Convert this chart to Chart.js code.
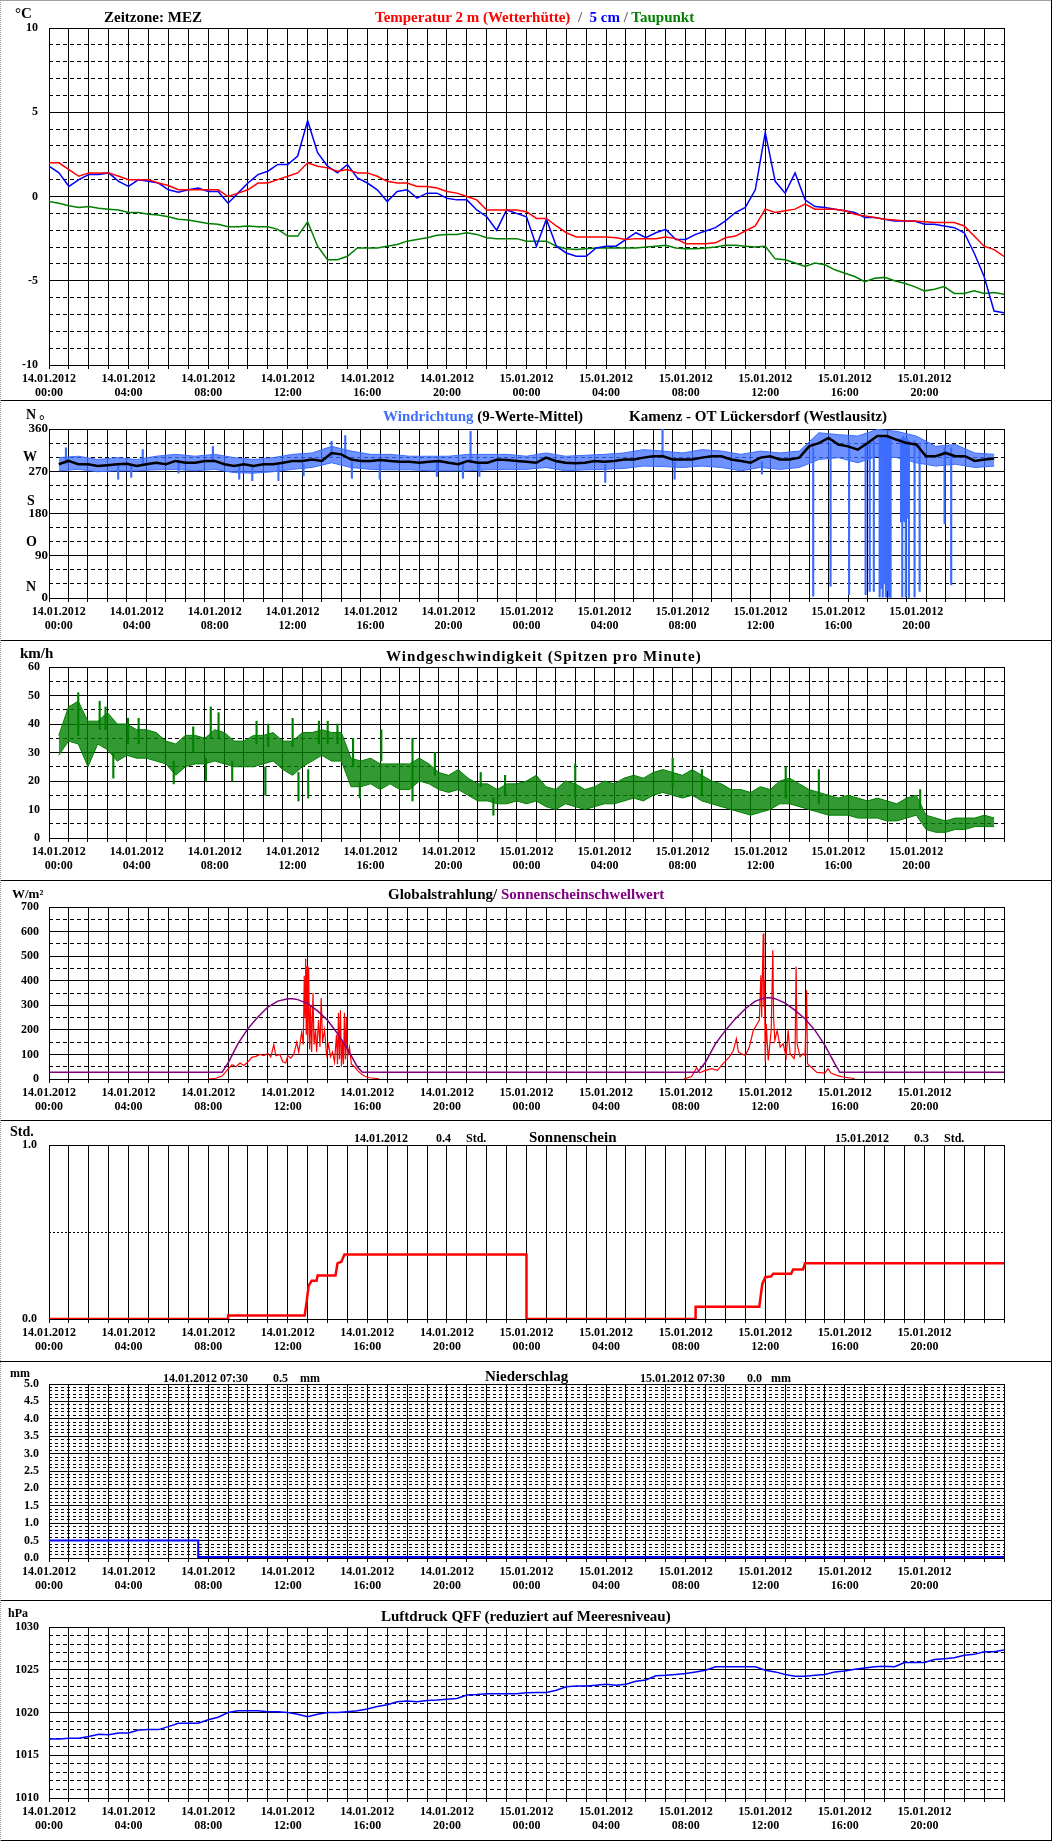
<!DOCTYPE html>
<html>
<head>
<meta charset="utf-8">
<script src="https://cdn.jsdelivr.net/npm/chart.js@4/dist/chart.umd.min.js"></script>
<style>
  html, body { margin: 0; padding: 0; background: #fff; }
  body { width: 1052px; height: 1841px; position: relative; overflow: hidden; }
  .panel { position: absolute; left: 0; width: 1052px; }
  .panel canvas { display: block; }
  .txt { position: absolute; white-space: pre; line-height: 1; font-family: 'Liberation Serif', 'Times New Roman', serif; font-weight: bold; color: #000; }
  .hline { position: absolute; left: 0; width: 1052px; height: 1px; background: #000; }
</style>
</head>
<body>
<div class="panel" style="top:0;height:400px"><canvas id="cTemp" width="1052" height="400"></canvas></div>
<div class="panel" style="top:400px;height:240px"><canvas id="cDir" width="1052" height="240"></canvas></div>
<div class="panel" style="top:640px;height:240px"><canvas id="cSpeed" width="1052" height="240"></canvas></div>
<div class="panel" style="top:880px;height:240px"><canvas id="cRad" width="1052" height="240"></canvas></div>
<div class="panel" style="top:1120px;height:241px"><canvas id="cSun" width="1052" height="241"></canvas></div>
<div class="panel" style="top:1361px;height:239px"><canvas id="cRain" width="1052" height="239"></canvas></div>
<div class="panel" style="top:1600px;height:240px"><canvas id="cPress" width="1052" height="240"></canvas></div>

<script>
// ---- data (hours since 14.01.2012 00:00) ----
const tickDates = ['14.01.2012', '15.01.2012'];

// temperatures, every 30 min
const temp2m = [2.0,2.0,1.6,1.2,1.4,1.4,1.4,1.2,1.0,1.0,1.0,0.8,0.65,0.4,0.4,0.4,0.4,0.4,0.0,0.2,0.4,0.8,0.8,1.0,
  1.2,1.4,2.0,1.8,1.7,1.5,1.6,1.4,1.4,1.2,0.9,0.8,0.8,0.6,0.6,0.5,0.3,0.2,0.0,-0.2,-0.8,-0.8,-0.8,-0.8,
  -0.9,-1.3,-1.3,-1.75,-2.15,-2.4,-2.4,-2.4,-2.4,-2.45,-2.55,-2.5,-2.5,-2.5,-2.4,-2.5,-2.8,-2.8,-2.8,-2.75,-2.45,-2.35,-2.05,-1.75,
  -0.75,-0.95,-0.85,-0.75,-0.45,-0.75,-0.75,-0.75,-0.85,-1.05,-1.15,-1.25,-1.35,-1.4,-1.45,-1.45,-1.5,-1.55,-1.55,-1.55,-1.75,-2.35,-2.95,-3.15,-3.55];
const temp5cm = [1.8,1.4,0.6,1.0,1.3,1.3,1.4,0.9,0.6,1.0,0.9,0.8,0.4,0.25,0.4,0.5,0.3,0.3,-0.4,0.2,0.8,1.3,1.5,1.9,
  1.9,2.4,4.5,2.6,1.8,1.4,1.9,1.1,0.8,0.4,-0.3,0.3,0.4,-0.1,0.2,0.2,-0.1,-0.2,-0.2,-0.8,-1.2,-2.0,-0.8,-1.0,
  -1.2,-2.95,-1.35,-2.95,-3.35,-3.55,-3.55,-3.05,-2.95,-2.95,-2.55,-2.15,-2.45,-2.15,-1.95,-2.55,-2.55,-2.25,-2.05,-1.85,-1.45,-0.95,-0.65,0.4,
  3.8,0.9,0.2,1.4,-0.2,-0.6,-0.65,-0.75,-0.85,-0.95,-1.25,-1.25,-1.35,-1.45,-1.45,-1.45,-1.65,-1.65,-1.75,-1.85,-2.15,-3.35,-4.75,-6.8,-6.9];
const dewPoint = [-0.3,-0.4,-0.55,-0.65,-0.6,-0.7,-0.75,-0.8,-0.95,-0.95,-1.05,-1.1,-1.2,-1.35,-1.4,-1.5,-1.6,-1.65,-1.8,-1.8,-1.75,-1.8,-1.8,-1.95,
  -2.35,-2.35,-1.5,-2.95,-3.75,-3.75,-3.55,-3.05,-3.05,-3.05,-2.95,-2.85,-2.65,-2.55,-2.45,-2.3,-2.25,-2.25,-2.15,-2.25,-2.45,-2.5,-2.5,-2.5,
  -2.65,-2.65,-2.65,-2.95,-3.1,-3.15,-3.1,-3.05,-3.05,-3.05,-3.05,-3.05,-3.0,-2.95,-2.9,-3.05,-3.1,-3.1,-3.05,-3.0,-2.9,-2.9,-2.95,-3.0,
  -2.95,-3.7,-3.75,-3.95,-4.15,-3.95,-4.05,-4.35,-4.55,-4.75,-5.05,-4.85,-4.8,-5.0,-5.15,-5.35,-5.6,-5.5,-5.35,-5.75,-5.75,-5.6,-5.75,-5.7,-5.8];

// wind direction: 9-value mean every 30 min, raw spread hourly, single spikes
const dirMean = [285,292,285,285,281,283,285,286,281,285,288,285,292,288,288,292,292,285,281,285,281,285,285,288,
  292,292,295,292,309,306,295,292,292,294,292,290,290,288,290,292,288,285,292,288,288,295,294,292,
  290,288,299,292,288,287,288,292,290,292,295,295,299,302,302,295,295,295,299,302,302,295,292,288,
  299,302,295,295,299,323,330,341,327,323,316,330,345,345,337,330,327,302,302,309,302,302,292,295,297];
const dirHi = [299,302,295,299,295,302,306,302,306,299,295,299,306,309,323,313,306,306,302,302,302,306,306,306,
  302,309,302,304,306,309,316,313,309,316,313,306,313,309,313,352,348,345,359,355,345,323,327,309,306];
const dirLo = [271,274,269,271,271,273,274,271,274,267,266,269,274,278,288,278,274,273,273,271,271,271,273,274,
  274,278,271,273,274,276,281,280,278,281,278,271,278,274,278,295,299,288,302,299,288,281,285,278,281];
const dirSpikeT = [0.37,3.05,3.72,4.31,6.15,7.91,9.26,9.93,11.27,12.56,14.0,14.7,15.04,16.47,19.4,20.74,21.13,21.58,
  28.04,30.98,31.6,36.08,38.71,39.6,40.55,41.4,41.61,41.82,42.12,42.2,42.28,42.36,42.44,42.52,42.6,42.68,
  43.22,43.28,43.34,43.4,43.46,43.52,43.62,43.91,44.17,45.45,45.79];
const dirSpikeLo = [285,253,257,285,266,290,253,250,250,260,300,300,255,253,259,255,290,259,
  246,300,253,264,4,25,7,7,14,14,2,20,2,30,2,15,2,0,162,2,165,162,2,170,0,2,14,158,28];
const dirSpikeHi = [320,285,285,316,290,323,283,283,283,285,334,346,290,285,290,290,355,290,
  285,360,290,290,320,330,330,330,330,335,340,345,340,345,345,340,345,340,340,340,345,340,340,340,335,335,330,320,320];

// wind speed (gusts per minute): spread every 30 min, single spikes
const spdHi = [36,46,48,41,41,44,40,40,38,38,37,34,33,36,36,35,38,37,34,34,36,36,37,34,
  34,37,37,38,37,37,28,27,28,26,26,26,26,28,26,23,22,24,21,19,19,17,19,19,
  20,22,18,17,20,19,17,18,20,19,21,22,21,23,24,23,22,24,22,20,19,17,17,16,
  18,17,20,21,19,17,16,15,14,15,14,13,14,13,12,14,15,8,7,6,7,7,7,8,7];
const spdLo = [29,34,33,25,33,31,27,29,28,28,27,26,22,25,26,26,27,26,25,25,25,26,27,24,
  22,25,27,29,27,27,18,18,19,17,19,17,17,20,19,17,16,17,15,13,13,12,12,13,
  12,13,11,10,12,11,10,11,12,12,13,14,13,15,16,15,14,15,13,12,11,10,9,8,
  9,10,12,12,11,10,9,8,8,8,7,7,7,6,6,7,8,3,2,2,3,3,4,4,4];
const spdSpikeT = [1.0,2.1,2.4,2.8,3.55,4.1,5.9,6.9,7.55,7.8,8.2,8.9,10.15,10.6,10.75,12.0,12.3,12.8,13.35,13.8,
  14.3,15.1,15.45,16.55,18.15,19.3,21.65,22.3,22.9,26.5,31.5,33.0,37.3,39.0,44.2];
const spdSpikeLo = [36,38,38,21,33,33,19,30,20,35,35,20,33,15,32,32,13,14,33,33,33,25,14,27,13,22,18,8,15,14,18,15,14,12,10];
const spdSpikeHi = [51,48,46,30,42,42,27,39,28,46,44,27,41,25,40,42,23,24,41,41,40,35,20,38,35,30,23,14,22,26,28,24,25,24,17];

// global radiation (day 1 / day 2) and sunshine threshold
const radT1 = [8.0,8.4,8.7,9.0,9.2,9.4,9.6,9.8,10.0,10.2,10.4,10.6,10.8,11.0,11.15,11.3,11.4,11.6,11.75,11.9,
  12.0,12.15,12.3,12.45,12.55,12.7,12.78,12.83,12.87,12.9,12.93,12.97,13.0,13.05,13.1,13.15,13.2,13.27,13.32,13.4,
  13.45,13.55,13.62,13.68,13.75,13.85,13.95,14.05,14.15,14.25,14.35,14.45,14.5,14.55,14.6,14.65,14.7,14.75,14.8,14.85,
  14.9,14.95,15.0,15.1,15.2,15.35,15.5,15.7,15.9,16.1,16.5,16.6];
const radV1 = [0,3,12,40,58,50,65,55,70,88,92,100,95,105,90,140,95,100,70,65,
  95,85,100,150,110,190,140,420,250,490,180,460,150,455,120,300,110,350,140,200,
  110,240,130,330,150,200,100,140,90,110,70,180,60,270,80,280,50,150,60,270,
  80,250,90,130,60,50,35,20,10,5,2,0];
const radT2 = [31.9,32.3,32.55,32.7,33.0,33.3,33.6,33.9,34.2,34.4,34.55,34.65,34.8,35.0,35.2,35.4,35.6,35.7,35.78,35.82,
  35.86,35.9,35.93,35.96,36.0,36.05,36.15,36.3,36.38,36.42,36.48,36.6,36.75,36.9,37.05,37.15,37.25,37.45,37.5,37.55,
  37.6,37.75,37.9,38.0,38.08,38.12,38.3,38.6,39.0,39.15,39.3,39.6,39.9,40.4,40.5];
const radV2 = [0,10,46,25,35,42,35,65,90,117,164,110,103,96,130,198,225,239,422,250,
  436,592,293,402,69,225,76,198,524,250,157,198,130,144,90,198,103,83,110,458,
  144,90,103,96,361,62,49,27,24,42,24,15,8,3,0];
const threshT = [0,8.7,9,9.5,10,10.5,11,11.5,12,12.25,12.5,13,13.5,14,14.5,15,15.5,15.75,
  32.6,33,33.5,34,34.5,35,35.5,36,36.25,36.5,37,37.5,38,38.5,39,39.5,39.75,48];
const threshV = [27,27,65,144,205,252,293,317,327,327,323,307,277,239,185,123,49,27,
  27,69,144,198,245,286,317,331,331,327,309,279,245,198,137,62,27,27];

// cumulated sunshine (h)
const sunT = [0,9.0,9.0,12.85,12.95,13.05,13.2,13.45,13.5,14.4,14.5,14.7,14.85,24.0,24.0,
  32.5,32.5,35.7,35.85,36.0,36.3,36.4,37.3,37.4,37.9,38.0,48];
const sunV = [0,0,0.02,0.02,0.1,0.19,0.22,0.22,0.25,0.25,0.32,0.33,0.37,0.37,0,
  0,0.07,0.07,0.2,0.24,0.245,0.26,0.26,0.285,0.285,0.32,0.32];

// precipitation (mm)
const rainT = [0,7.5,7.5,48];
const rainV = [0.5,0.5,0.03,0.03];

// pressure QFF, every 30 min
const pressure = [1016.9,1016.9,1017.0,1017.0,1017.2,1017.45,1017.4,1017.6,1017.6,1017.95,1018.0,1018.0,1018.35,1018.75,1018.75,1018.75,
  1019.15,1019.45,1020.0,1020.2,1020.2,1020.2,1020.1,1020.1,1020.0,1019.8,1019.5,1019.8,1020.0,1020.0,1020.1,1020.2,
  1020.4,1020.7,1020.9,1021.25,1021.35,1021.25,1021.4,1021.45,1021.55,1021.65,1022.05,1022.1,1022.2,1022.2,1022.2,1022.2,
  1022.3,1022.35,1022.35,1022.6,1023.0,1023.1,1023.1,1023.2,1023.3,1023.2,1023.3,1023.65,1023.8,1024.3,1024.35,1024.45,
  1024.55,1024.75,1024.95,1025.35,1025.35,1025.35,1025.35,1025.35,1024.95,1024.75,1024.45,1024.25,1024.25,1024.35,1024.45,1024.75,
  1024.85,1025.05,1025.2,1025.35,1025.4,1025.35,1025.85,1025.85,1025.85,1026.2,1026.3,1026.4,1026.7,1026.8,1027.1,1027.1,1027.3];

// ---- helpers ----
const FONT = "'Liberation Serif', 'Times New Roman', serif";
Chart.defaults.font.family = FONT;
Chart.defaults.font.weight = 'bold';
Chart.defaults.color = '#000';

const RED = '#ff0000', BLUE = '#0000ff', GREEN = '#008000', PURPLE = '#800080', DIRBLUE = '#3d6dff';

function halfHour(vals) { return vals.map((v, i) => ({x: i / 2, y: v})); }
function hourly(vals) { return vals.map((v, i) => ({x: i, y: v})); }
function pairs(ts, vs) { return ts.map((t, i) => ({x: t, y: vs[i]})); }
function spikes(ts, lo, hi) { return ts.map((t, i) => ({x: t, y: [lo[i], hi[i]]})); }

function xLabel(v) {
  if (v % 4 !== 0 || v >= 48) return '';
  const h = v % 24;
  return [tickDates[Math.floor(v / 24)], (h < 10 ? '0' : '') + h + ':00'];
}

function xScale(bottomH) {
  return {
    type: 'linear', min: 0, max: 48,
    afterFit: s => { s.height = bottomH; },
    ticks: { stepSize: 1, autoSkip: false, maxRotation: 0, minRotation: 0, padding: 3, color: '#000',
             font: { size: 12, weight: 'bold', lineHeight: 1.17 }, callback: xLabel },
    grid: { color: '#000', lineWidth: 1, drawTicks: true, tickLength: 4, tickColor: '#000' },
    border: { color: '#000', width: 1 }
  };
}

function yScales(min, max, major, minor, fmt, opts) {
  opts = opts || {};
  const isMajor = v => Math.abs(v / major - Math.round(v / major)) < 1e-6;
  return {
    y: {
      type: 'linear', position: 'left', min: min, max: max,
      afterFit: s => { s.width = 49; },
      ticks: { stepSize: major, padding: opts.pad === undefined ? 10 : opts.pad, color: '#000',
               font: { size: opts.size || 12, weight: 'bold' }, callback: fmt },
      grid: { color: '#000', lineWidth: 1, drawTicks: false },
      border: { color: '#000', width: 1 }
    },
    yMinor: {
      type: 'linear', position: 'right', min: min, max: max,
      afterFit: s => { s.width = 0; },
      ticks: { display: false, stepSize: minor },
      grid: { drawTicks: false, lineWidth: 1,
              color: c => (c.tick && isMajor(c.tick.value)) ? 'rgba(0,0,0,0)' : '#000' },
      border: { display: false, dash: opts.dash || [4, 3] }
    }
  };
}

function makeChart(id, topPad, bottomH, scales, datasets) {
  return new Chart(document.getElementById(id), {
    type: 'line',
    data: { datasets: datasets },
    options: {
      responsive: false, animation: false, events: [],
      layout: { padding: { top: topPad, right: 48, left: 0, bottom: 0 } },
      plugins: { legend: { display: false }, tooltip: { enabled: false }, title: { display: false } },
      elements: { point: { radius: 0 }, line: { tension: 0, borderWidth: 1.5 } },
      scales: Object.assign({ x: xScale(bottomH) }, scales)
    }
  });
}

const intFmt = v => String(v);
const oneDec = v => v.toFixed(1);

// ---- charts ----
makeChart('cTemp', 28, 35, yScales(-10, 10, 5, 1, intFmt, { pad: 11 }), [
  { label: 'Temperatur 2 m', data: halfHour(temp2m), borderColor: RED, borderWidth: 1.5 },
  { label: '5 cm', data: halfHour(temp5cm), borderColor: BLUE, borderWidth: 1.5 },
  { label: 'Taupunkt', data: halfHour(dewPoint), borderColor: GREEN, borderWidth: 1.5 }
]);

makeChart('cDir', 29, 42, yScales(0, 360, 90, 30, intFmt, { pad: 1, size: 13 }), [
  { label: '9-Werte-Mittel', data: halfHour(dirMean), borderColor: '#000', borderWidth: 2.5 },
  { type: 'bar', label: 'Spitzen', data: spikes(dirSpikeT, dirSpikeLo, dirSpikeHi), backgroundColor: DIRBLUE, barThickness: 1.5 },
  { label: 'max', data: hourly(dirHi), borderColor: DIRBLUE, backgroundColor: 'rgba(61,109,255,0.75)', borderWidth: 1, fill: '+1' },
  { label: 'min', data: hourly(dirLo), borderColor: DIRBLUE, borderWidth: 1, fill: false }
]);

makeChart('cSpeed', 27, 42, yScales(0, 60, 10, 5, intFmt, { pad: 9 }), [
  { type: 'bar', label: 'Spitzen', data: spikes(spdSpikeT, spdSpikeLo, spdSpikeHi), backgroundColor: GREEN, barThickness: 1.5 },
  { label: 'max', data: halfHour(spdHi), borderColor: GREEN, backgroundColor: 'rgba(0,128,0,0.8)', borderWidth: 1, fill: '+1' },
  { label: 'min', data: halfHour(spdLo), borderColor: GREEN, borderWidth: 1, fill: false }
]);

makeChart('cRad', 27, 41, yScales(0, 700, 100, 50, intFmt, { pad: 10 }), [
  { label: 'Sonnenscheinschwellwert', data: pairs(threshT, threshV), borderColor: PURPLE, borderWidth: 1.5 },
  { label: 'Globalstrahlung', data: pairs(radT1, radV1).concat([{ x: 24, y: null }], pairs(radT2, radV2)),
    borderColor: RED, borderWidth: 1.2, spanGaps: false }
]);

makeChart('cSun', 25, 42, yScales(0, 1, 1, 0.5, oneDec, { pad: 12, dash: [2, 2] }), [
  { label: 'Sonnenschein', data: pairs(sunT, sunV), borderColor: RED, borderWidth: 2.5 }
]);

makeChart('cRain', 23, 42, yScales(0, 5, 0.5, 0.1, oneDec, { pad: 10, dash: [3, 3] }), [
  { label: 'Niederschlag', data: pairs(rainT, rainV), borderColor: BLUE, borderWidth: 2 }
]);

makeChart('cPress', 27, 42, yScales(1010, 1030, 5, 1, intFmt, { pad: 10 }), [
  { label: 'Luftdruck', data: halfHour(pressure), borderColor: BLUE, borderWidth: 1.5 }
]);

// ---- texts ----
function addText(x, base, size, parts, spacing) {
  const d = document.createElement('div');
  d.className = 'txt';
  d.style.left = x + 'px';
  d.style.top = (base - 0.84 * size) + 'px';
  d.style.fontSize = size + 'px';
  if (spacing) d.style.letterSpacing = spacing + 'px';
  (typeof parts === 'string' ? [[parts, '#000']] : parts).forEach(p => {
    const s = document.createElement('span');
    s.textContent = p[0];
    s.style.color = p[1];
    d.appendChild(s);
  });
  document.body.appendChild(d);
}

addText(15, 19, 15, '°C');
addText(104, 23, 15, 'Zeitzone: MEZ');
addText(375, 23, 15, [['Temperatur 2 m (Wetterhütte)', RED], ['  /  ', '#666'], ['5 cm', BLUE], [' / ', '#666'], ['Taupunkt', GREEN]]);

addText(26, 420, 14, 'N');
addText(39, 426, 14, '°');
addText(383, 422, 15, [['Windrichtung', DIRBLUE], [' (9-Werte-Mittel)', '#000']]);
addText(629, 422, 15, 'Kamenz - OT Lückersdorf (Westlausitz)');
addText(23, 462, 14, 'W');
addText(27, 506, 14, 'S');
addText(26, 547, 14, 'O');
addText(26, 592, 14, 'N');

addText(20, 659, 15, 'km/h');
addText(386, 662, 15, 'Windgeschwindigkeit (Spitzen pro Minute)', 1);

addText(12, 898, 13, 'W/m²');
addText(388, 900, 15, [['Globalstrahlung/ ', '#000'], ['Sonnenscheinschwellwert', PURPLE]]);

addText(10, 1137, 14, 'Std.');
addText(354, 1142, 12, '14.01.2012');
addText(436, 1142, 12, '0.4');
addText(466, 1142, 12, 'Std.');
addText(529, 1143, 15, 'Sonnenschein');
addText(835, 1142, 12, '15.01.2012');
addText(914, 1142, 12, '0.3');
addText(944, 1142, 12, 'Std.');

addText(10, 1377, 12, 'mm');
addText(163, 1382, 12, '14.01.2012 07:30');
addText(273, 1382, 12, '0.5');
addText(300, 1382, 12, 'mm');
addText(485, 1382, 15, 'Niederschlag');
addText(640, 1382, 12, '15.01.2012 07:30');
addText(747, 1382, 12, '0.0');
addText(771, 1382, 12, 'mm');

addText(8, 1617, 12, 'hPa');
addText(381, 1622, 15, 'Luftdruck QFF (reduziert auf Meeresniveau)');

// ---- frame ----
[400, 640, 880, 1120, 1361, 1600, 1840].forEach(y => {
  const l = document.createElement('div');
  l.className = 'hline';
  l.style.top = y + 'px';
  document.body.appendChild(l);
});
const topLine = document.createElement('div');
topLine.style.cssText = 'position:absolute;left:0;top:0;width:1052px;height:1px;background:#a0a0a0';
document.body.appendChild(topLine);
const leftLine = document.createElement('div');
leftLine.style.cssText = 'position:absolute;left:0;top:0;width:0;height:1841px;border-left:1px dotted #999';
document.body.appendChild(leftLine);
const rightLine = document.createElement('div');
rightLine.style.cssText = 'position:absolute;left:1051px;top:0;width:1px;height:1841px;background:#000';
document.body.appendChild(rightLine);
</script>
</body>
</html>
